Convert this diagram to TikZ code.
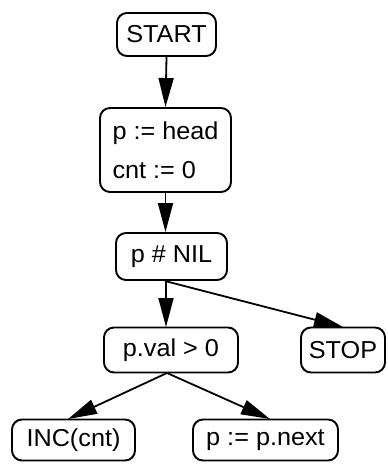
\documentclass[tikz,border=0pt]{standalone}
\usepackage{fontspec}
\setmainfont{Liberation Sans}[FakeStretch=1.03]
\usetikzlibrary{arrows.meta}
\begin{document}
\begin{tikzpicture}[x=1pt,y=-1pt,
  box/.style={draw,line width=1.9pt,rounded corners=10pt,inner sep=0pt,align=center,
    font=\fontsize{24.5}{39}\selectfont},
  conn/.style={line width=1.8pt,-{Triangle[length=29pt,width=15pt]}}]
\useasboundingbox (0,0) rectangle (388,464);
\node[box,minimum width=99pt,minimum height=43pt] (start) at (166.5,34.5) {START};
\node[box,minimum width=131pt,minimum height=84pt,align=left] (init) at (165.5,150) {p := head\\cnt := 0};
\node[box,minimum width=111pt,minimum height=47pt] (test) at (171.5,256.5) {p \# NIL};
\node[box,minimum width=134pt,minimum height=45pt] (pos) at (171,350) {p.val > 0};
\node[box,minimum width=84pt,minimum height=45pt] (stop) at (343,350) {STOP};
\node[box,minimum width=123pt,minimum height=41pt] (inc) at (73.5,440) {INC(cnt)};
\node[box,minimum width=145pt,minimum height=41pt] (next) at (265.5,440) {p := p.next};
\draw[conn] (start.south) -- (init.north);
\draw[conn] (init.south) -- (init.south |- test.north);
\draw[conn] (166,280) -- (166,327);
\draw[conn] (165,281) -- (343,327);
\draw[conn] (167,373) -- (68,419);
\draw[conn] (167,373) -- (270,419);
\end{tikzpicture}
\end{document}
